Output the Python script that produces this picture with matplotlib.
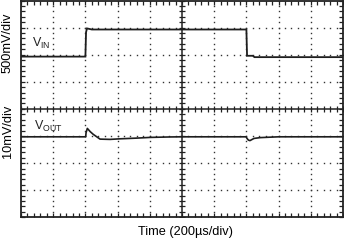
import numpy as np
import matplotlib
matplotlib.use("Agg")
import matplotlib.pyplot as plt

plt.rcParams['font.family'] = ['Liberation Sans', 'DejaVu Sans']
plt.rcParams['mathtext.fontset'] = 'custom'
plt.rcParams['mathtext.rm'] = 'Liberation Sans'
plt.rcParams['mathtext.it'] = 'Liberation Sans'

# ---- data ----
# time in microseconds (200 us/div, 10 divisions)
vin_t = [0, 400, 404, 410, 440, 1400, 1404, 1440, 1450, 2000]
vin_v = [3.50, 3.50, 3.95, 4.02, 4.00, 4.00, 3.515, 3.515, 3.49, 3.49]   # volts

vout_t = [0, 402, 404, 412, 430, 449, 491, 553, 615, 719, 801, 925, 1000,
          1398, 1404, 1412, 1422, 1447, 1485, 1540, 1600, 2000]
vout_mv = [0.0, 0.0, 1.5, 3.1, 1.9, 0.9, -0.85, -0.95, -0.74, -0.48, -0.22, -0.05, 0.0,
           0.0, -0.6, -1.2, -1.4, -0.6, -0.3, -0.15, 0.0, 0.0]   # mV deviation

vin_scale = 0.5    # V/div
vout_scale = 10.0  # mV/div
t_scale = 200.0    # us/div

# ---- figure ----
fig = plt.figure(figsize=(3.44, 2.41), dpi=100)
ax = fig.add_axes([21/344, 1 - 217.3/241, 322/344, 216.8/241])

ax.set_xlim(0, 10 * t_scale)
ax.set_ylim(0, 8)

trace_c = '#1e1e1e'
# grid dots
minor_x = np.arange(0, 10 * t_scale + 1e-6, t_scale / 5)
minor_y = np.arange(0, 8 + 1e-6, 0.2)
for i in range(1, 10):
    if i == 5:
        continue
    ax.plot([i * t_scale] * len(minor_y), minor_y, linestyle='none', marker='s',
            markersize=1.0, color='#333333', markeredgewidth=0)
for j in range(1, 8):
    if j == 4:
        continue
    ax.plot(minor_x, [j] * len(minor_x), linestyle='none', marker='s',
            markersize=1.0, color='#333333', markeredgewidth=0)

# center cross with ticks
ax.axhline(4, color='#222222', lw=1.1)
ax.axvline(5 * t_scale, color='#222222', lw=1.1)
ax.plot(minor_x, [4] * len(minor_x), linestyle='none', marker='|', markersize=4.5,
        color='#222222', markeredgewidth=0.9)
ax.plot([5 * t_scale] * len(minor_y), minor_y, linestyle='none', marker='_', markersize=4.5,
        color='#222222', markeredgewidth=0.9)

# traces
vin_y = 5.93 + (np.array(vin_v) - 3.5) / vin_scale
vout_y = 2.97 + np.array(vout_mv) / vout_scale
ax.plot(vin_t, vin_y, color=trace_c, lw=1.3, solid_joinstyle='miter')
ax.plot(vout_t, vout_y, color=trace_c, lw=1.2)

# ticks on border
ax.set_xticks(minor_x)
ax.set_yticks(minor_y)
ax.tick_params(direction='in', length=3, width=0.9, color='#222222',
               top=True, right=True, labelleft=False, labelbottom=False)
for s in ax.spines.values():
    s.set_linewidth(1.3)
    s.set_color('#222222')

ax.text(68, 6.41, r'V$_{\mathrm{IN}}$', fontsize=9, va='center', ha='left', color='#222222')
ax.text(80, 3.35, r'V$_{\mathrm{OUT}}$', fontsize=9, va='center', ha='left', color='#222222')

fig.text(8/344, 1 - 42.5/241, '500mV/div', rotation=90, ha='center', va='center', fontsize=9.2)
fig.text(8/344, 1 - 131.5/241, '10mV/div', rotation=90, ha='center', va='center', fontsize=9.2)
fig.text(186/344, 1 - 232/241, 'Time (200µs/div)', ha='center', va='center', fontsize=9.2)

fig.savefig('out.png', dpi=100)
